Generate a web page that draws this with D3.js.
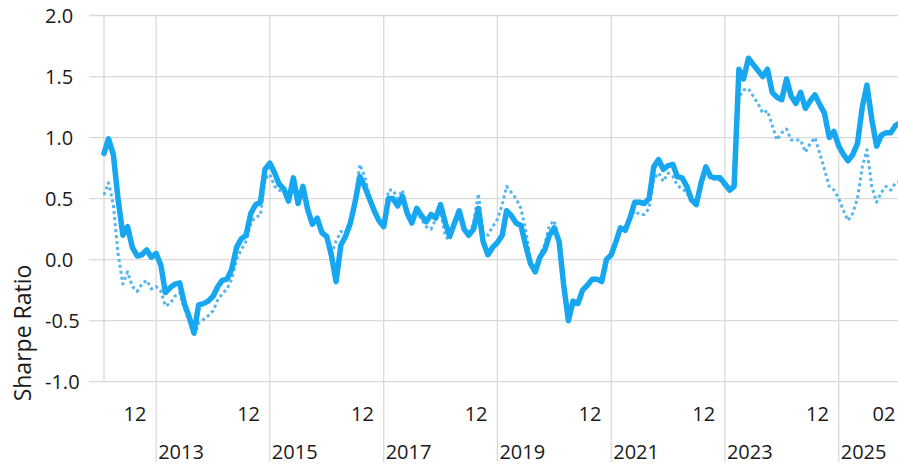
<!DOCTYPE html>
<html>
<head>
<meta charset="utf-8">
<script src="https://cdn.jsdelivr.net/npm/d3@7"></script>
<style>
  html, body { margin: 0; padding: 0; background: #ffffff; }
  svg { display: block; }
  text { font-family: "Open Sans", "Noto Sans", sans-serif; fill: #1a1a1a; }
</style>
</head>
<body>
<svg id="chart" width="898" height="466"></svg>
<script>
// ---- Data (monthly, first month = Feb 2012) ----
const startMonth = "2012-02";
const seriesSolid = [
  0.87, 0.99, 0.86, 0.50, 0.20, 0.27, 0.10, 0.03, 0.04, 0.08, 0.02, 0.05,
  -0.05, -0.27, -0.23, -0.20, -0.19, -0.36, -0.47, -0.60, -0.37, -0.36, -0.34, -0.30,
  -0.22, -0.17, -0.16, -0.08, 0.10, 0.17, 0.20, 0.38, 0.45, 0.47, 0.74, 0.79,
  0.71, 0.62, 0.58, 0.48, 0.67, 0.46, 0.60, 0.41, 0.29, 0.34, 0.22, 0.19,
  0.03, -0.18, 0.12, 0.19, 0.30, 0.47, 0.68, 0.60, 0.50, 0.40, 0.32, 0.27,
  0.50, 0.50, 0.44, 0.52, 0.38, 0.30, 0.42, 0.36, 0.31, 0.37, 0.34, 0.45,
  0.30, 0.19, 0.30, 0.40, 0.25, 0.20, 0.25, 0.42, 0.15, 0.04, 0.10, 0.14,
  0.20, 0.40, 0.36, 0.30, 0.28, 0.12, -0.03, -0.10, 0.02, 0.08, 0.20, 0.26,
  0.15, -0.20, -0.50, -0.34, -0.36, -0.25, -0.21, -0.16, -0.16, -0.18, 0.00, 0.04,
  0.15, 0.26, 0.24, 0.34, 0.47, 0.47, 0.46, 0.50, 0.76, 0.82, 0.74, 0.77,
  0.78, 0.68, 0.67, 0.60, 0.49, 0.45, 0.63, 0.76, 0.68, 0.67, 0.67, 0.62,
  0.57, 0.60, 1.56, 1.48, 1.65, 1.60, 1.55, 1.50, 1.56, 1.37, 1.33, 1.31,
  1.48, 1.34, 1.28, 1.37, 1.24, 1.30, 1.35, 1.27, 1.20, 1.00, 1.05, 0.93,
  0.86, 0.81, 0.86, 0.95, 1.25, 1.43, 1.15, 0.93, 1.02, 1.04, 1.04, 1.10,
  1.12
];
const seriesDotted = [
  0.53, 0.63, 0.45, 0.05, -0.20, -0.10, -0.22, -0.26, -0.20, -0.17, -0.24, -0.22,
  -0.26, -0.38, -0.36, -0.30, -0.27, -0.40, -0.50, -0.63, -0.52, -0.49, -0.46, -0.42,
  -0.33, -0.28, -0.24, -0.16, 0.00, 0.08, 0.15, 0.30, 0.35, 0.36, 0.66, 0.70,
  0.60, 0.57, 0.55, 0.47, 0.66, 0.47, 0.58, 0.42, 0.30, 0.33, 0.25, 0.18,
  0.05, 0.15, 0.23, 0.22, 0.33, 0.50, 0.78, 0.68, 0.52, 0.42, 0.33, 0.30,
  0.57, 0.57, 0.50, 0.57, 0.40, 0.32, 0.40, 0.33, 0.27, 0.25, 0.33, 0.40,
  0.19, 0.16, 0.30, 0.38, 0.24, 0.20, 0.30, 0.54, 0.22, 0.20, 0.27, 0.33,
  0.45, 0.60, 0.55, 0.50, 0.42, 0.25, 0.00, -0.08, 0.04, 0.12, 0.28, 0.32,
  0.15, -0.20, -0.50, -0.34, -0.36, -0.25, -0.21, -0.16, -0.16, -0.18, 0.00, 0.04,
  0.15, 0.26, 0.24, 0.34, 0.40, 0.37, 0.37, 0.42, 0.66, 0.71, 0.64, 0.71,
  0.68, 0.61, 0.58, 0.55, 0.47, 0.45, 0.60, 0.72, 0.66, 0.66, 0.65, 0.60,
  0.56, 0.60, 1.33, 1.39, 1.40, 1.34, 1.28, 1.20, 1.22, 1.10, 0.98, 1.04,
  1.07, 0.98, 0.98, 0.98, 0.88, 0.95, 1.00, 0.87, 0.74, 0.60, 0.57, 0.50,
  0.40, 0.32, 0.38, 0.50, 0.76, 0.90, 0.60, 0.47, 0.55, 0.60, 0.57, 0.63,
  0.64
];
const yTicks = [2.0, 1.5, 1.0, 0.5, 0.0, -0.5, -1.0];
const monthTickDates = ["2012-12", "2014-12", "2016-12", "2018-12", "2020-12", "2022-12", "2024-12", "2026-02"];
const monthTickLabels = ["12", "12", "12", "12", "12", "12", "12", "02"];
const yearLabels = ["2013", "2015", "2017", "2019", "2021", "2023", "2025"];
const yTitle = "Sharpe Ratio";

// ---- Setup ----
const svg = d3.select("#chart");
const parseMonth = d3.timeParse("%Y-%m");
const start = parseMonth(startMonth);
const dates = seriesSolid.map((_, i) => d3.timeMonth.offset(start, i));
const refEnd = d3.timeMonth.offset(start, 167);

const plotLeft = 89, plotRight = 898, plotTop = 15.5, plotBottom = 381.7;
const x = d3.scaleTime().domain([start, refEnd]).range([104, 895.6]);
const y = d3.scaleLinear().domain([-1, 2]).range([plotBottom, plotTop]);

const grid = "#d9d9d9";
const fmt = d3.formatLocale({decimal: ".", thousands: ",", grouping: [3], currency: ["", ""], minus: "-"}).format(".1f");

// horizontal gridlines
svg.append("g").selectAll("line").data(yTicks).join("line")
  .attr("x1", plotLeft).attr("x2", plotRight)
  .attr("y1", d => y(d)).attr("y2", d => y(d))
  .attr("stroke", grid).attr("stroke-width", 1.3);

// vertical gridline at first category
svg.append("line")
  .attr("x1", x(start)).attr("x2", x(start))
  .attr("y1", plotTop).attr("y2", plotBottom)
  .attr("stroke", grid).attr("stroke-width", 1.3);

// year dividers (extend through label rows)
const yearDates = yearLabels.map(s => parseMonth(s + "-01"));
svg.append("g").selectAll("line").data(yearDates).join("line")
  .attr("x1", d => x(d)).attr("x2", d => x(d))
  .attr("y1", plotTop).attr("y2", 462)
  .attr("stroke", grid).attr("stroke-width", 1.3);

// y tick labels
svg.append("g").selectAll("text").data(yTicks).join("text")
  .attr("x", 45).attr("y", d => y(d))
  .attr("dy", "0.35em")
  .attr("text-anchor", "start")
  .style("font-size", "20px")
  .text(d => fmt(d));

// y title
svg.append("text")
  .attr("transform", "translate(31,333) rotate(-90)")
  .attr("text-anchor", "middle")
  .style("font-size", "23px")
  .text(yTitle);

// month labels
svg.append("g").selectAll("text").data(monthTickDates).join("text")
  .attr("x", d => x(parseMonth(d)) - 5)
  .attr("y", 421)
  .attr("text-anchor", "end")
  .style("font-size", "20px")
  .text((d, i) => monthTickLabels[i]);

// year labels
svg.append("g").selectAll("text").data(yearDates).join("text")
  .attr("x", d => x(d) + 2)
  .attr("y", 459)
  .attr("text-anchor", "start")
  .style("font-size", "20px")
  .text((d, i) => yearLabels[i]);

// lines
const line = d3.line().x((d, i) => x(dates[i])).y(d => y(d));

svg.append("path")
  .datum(seriesDotted)
  .attr("d", line)
  .attr("fill", "none")
  .attr("stroke", "#55b6ec")
  .attr("stroke-width", 3)
  .attr("stroke-dasharray", "3,3")
  .attr("stroke-linejoin", "round");

svg.append("path")
  .datum(seriesSolid)
  .attr("d", line)
  .attr("fill", "none")
  .attr("stroke", "#16a7f0")
  .attr("stroke-width", 5.5)
  .attr("stroke-linejoin", "round")
  .attr("stroke-linecap", "round");
</script>
</body>
</html>
